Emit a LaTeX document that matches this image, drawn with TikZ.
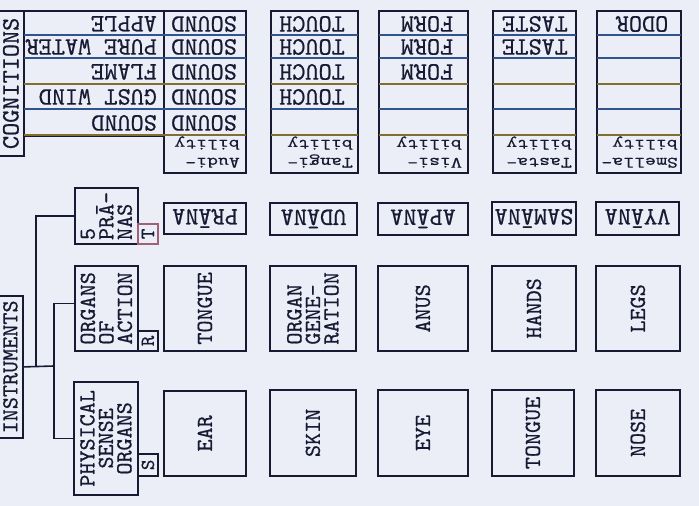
\documentclass[tikz,border=0pt]{standalone}
\usepackage{fontspec}
\newfontfamily\typer{lmmono10-regular.otf}[FakeBold=0.6]
\newfontfamily\typerwide{lmmono10-regular.otf}[FakeBold=0.5, FakeStretch=1.3]
\usetikzlibrary{positioning}

\definecolor{paper}{RGB}{236,238,247}
\definecolor{ink}{RGB}{24,26,52}
\definecolor{rowblue}{RGB}{48,84,140}
\definecolor{rowolive}{RGB}{128,112,48}
\definecolor{tpink}{RGB}{160,96,118}

\tikzset{
  box/.style={draw=ink, line width=1.8pt, anchor=north west, inner sep=0pt},
  tag/.style={box, minimum width=20pt},
  up/.style={rotate=90, text=ink, align=center, inner sep=0pt,
             font=\typer\fontsize{23}{18.5}\selectfont},
  tagtext/.style={up, font=\typer\fontsize{20}{20}\selectfont},
  flip/.style={rotate=180, text=ink, inner sep=1pt,
               font=\typer\fontsize{25}{18}\selectfont},
  small/.style={rotate=180, text=ink, align=left, anchor=west, inner sep=1pt,
                font=\typerwide\fontsize{16}{18}\selectfont},
  rowline/.style={line width=1.6pt, shorten <=0.9pt, shorten >=0.9pt},
  wire/.style={draw=ink, line width=1.6pt},
}

\begin{document}
\begin{tikzpicture}[x=1pt, y=-1pt]
  \useasboundingbox (0,0) rectangle (699,506);
  \clip (0,0) rectangle (699,506);
  \fill[paper] (0,0) rectangle (699,506);

  % cognitions table
  \node[box, minimum width=26pt, minimum height=145pt,
        label={[up, font=\typer\fontsize{25}{18}\selectfont]center:COGNITIONS}] (cogn) at (-3,10) {};
  \node[box, minimum width=140pt, minimum height=125pt] (colA) at (23,10) {};
  \node[box, minimum width=82pt, minimum height=162pt] (colB) at (163,10) {};
  \node[box, minimum width=87pt, minimum height=162pt] (colC) at (270,10) {};
  \node[box, minimum width=89pt, minimum height=162pt] (colD) at (378,10) {};
  \node[box, minimum width=83pt, minimum height=162pt] (colE) at (492,10) {};
  \node[box, minimum width=84pt, minimum height=162pt] (colF) at (596,10) {};

  \foreach \y/\c in {35/rowblue, 58/rowblue, 84/rowolive, 109/rowblue, 135/rowolive} {
    \coordinate (row) at (0,\y);
    \foreach \col in {colA,colB,colC,colD,colE,colF}
      \draw[rowline, \c] (\col.west |- row) -- (\col.east |- row);
  }

  \node[flip, anchor=west] (apple) at (158,24) {APPLE};
  \node[flip, anchor=west] (water) at (158,47) {PURE WATER};
  \node[flip, anchor=west] (flame) at (158,72) {FLAME};
  \node[flip, anchor=west] (wind) at (158,97) {GUST WIND};
  \node[flip, anchor=west] (sound) at (158,123) {SOUND};

  \foreach \y [count=\i] in {24,47,72,97,123}
    \node[flip] (snd\i) at (204,\y) {SOUND};
  \foreach \y [count=\i] in {24,47,72,97}
    \node[flip] (tch\i) at (312,\y) {TOUCH};
  \foreach \y [count=\i] in {24,47,72}
    \node[flip] (frm\i) at (427,\y) {FORM};
  \foreach \y [count=\i] in {24,47}
    \node[flip] (tst\i) at (535,\y) {TASTE};
  \node[flip] (odr1) at (642,24) {ODOR};

  \node[small] (audi) at (241,152) {Audi-\\bility};
  \node[small] (tangi) at (354,152) {Tangi-\\bility};
  \node[small] (visi) at (463,152) {Visi-\\bility};
  \node[small] (tasta) at (573,152) {Tasta-\\bility};
  \node[small] (smella) at (679,152) {Smella-\\bility};

  % pranas
  \node[box, minimum width=63pt, minimum height=56pt,
        label={[up, align=left]center:{5\\PRĀ-\\NAS}}] (pranas) at (74,187) {};
  \node[tag, draw=tpink, minimum height=20pt, label={[tagtext]center:T}] (tagT) at (137,223) {};
  \node[box, minimum width=82pt, minimum height=31pt, label={[flip]center:PRĀNA}] (prana) at (163,202) {};
  \node[box, minimum width=87pt, minimum height=32pt, label={[flip]center:UDĀNA}] (udana) at (269,202) {};
  \node[box, minimum width=90pt, minimum height=32pt, label={[flip]center:APĀNA}] (apana) at (377,202) {};
  \node[box, minimum width=84pt, minimum height=33pt, label={[flip]center:SAMĀNA}] (samana) at (491,201) {};
  \node[box, minimum width=83pt, minimum height=33pt, label={[flip]center:VYĀNA}] (vyana) at (595,201) {};

  % organs of action
  \node[box, minimum width=63pt, minimum height=85pt,
        label={[up, align=left]center:{ORGANS\\OF\\ACTION}}] (ooa) at (74,265) {};
  \node[tag, minimum height=20pt, label={[tagtext]center:R}] (tagR) at (137,330) {};
  \node[box, minimum width=82pt, minimum height=85pt, label={[up]center:TONGUE}] (tongueA) at (163,265) {};
  \node[box, minimum width=86pt, minimum height=85pt,
        label={[up, align=left]center:{ORGAN\\GENE-\\RATION}}] (organ) at (269,265) {};
  \node[box, minimum width=90pt, minimum height=85pt, label={[up]center:ANUS}] (anus) at (377,265) {};
  \node[box, minimum width=84pt, minimum height=85pt, label={[up]center:HANDS}] (hands) at (491,265) {};
  \node[box, minimum width=84pt, minimum height=85pt, label={[up]center:LEGS}] (legs) at (595,265) {};

  % physical sense organs
  \node[box, minimum width=64pt, minimum height=113pt,
        label={[up]center:{PHYSICAL\\SENSE\\ORGANS}}] (pso) at (73,381) {};
  \node[tag, minimum height=22pt, label={[tagtext]center:S}] (tagS) at (137,453) {};
  \node[box, minimum width=82pt, minimum height=85pt, label={[up]center:EAR}] (ear) at (163,390) {};
  \node[box, minimum width=86pt, minimum height=86pt, label={[up]center:SKIN}] (skin) at (269,389) {};
  \node[box, minimum width=90pt, minimum height=86pt, label={[up]center:EYE}] (eye) at (377,389) {};
  \node[box, minimum width=82pt, minimum height=86pt, label={[up]center:TONGUE}] (tongueB) at (491,389) {};
  \node[box, minimum width=84pt, minimum height=86pt, label={[up]center:NOSE}] (nose) at (595,389) {};

  % instruments and the tree
  \node[box, minimum width=25pt, minimum height=142pt,
        label={[up]center:INSTRUMENTS}] (instr) at (-3,295) {};
  \coordinate (jA) at (36,366);
  \coordinate (jB) at (54,366);
  \draw[wire] (instr.east) -- (jB);
  \draw[wire] (pranas.west) -| (jA);
  \draw[wire] ([yshift=5pt]ooa.west) -| (jB) |- (pso.west);
\end{tikzpicture}
\end{document}
